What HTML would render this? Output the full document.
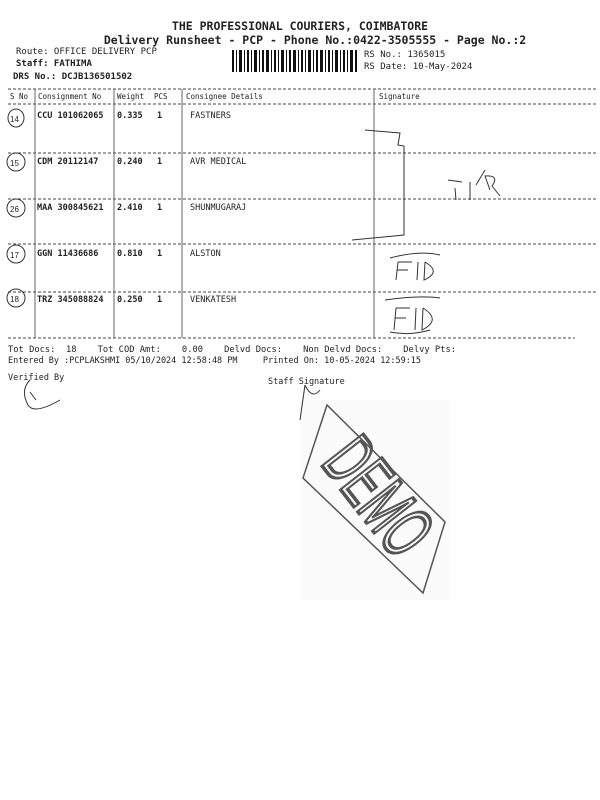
<!DOCTYPE html>
<html><head><meta charset="utf-8"><style>
body{margin:0;background:#fff;}
svg{display:block}
text{font-family:"DejaVu Sans Mono","Liberation Mono",monospace;fill:#222;white-space:pre}
</style></head><body>
<svg width="600" height="800" xmlns="http://www.w3.org/2000/svg" xml:space="preserve">
<rect width="600" height="800" fill="#fff"/>
<rect x="300" y="400" width="150" height="200" fill="#fbfbfb"/>
<g font-weight="bold">
<text x="300" y="30" font-size="11.5" text-anchor="middle">THE PROFESSIONAL COURIERS, COIMBATORE</text>
<text x="315" y="44" font-size="11.5" text-anchor="middle">Delivery Runsheet - PCP - Phone No.:0422-3505555 - Page No.:2</text>
</g>
<text x="16" y="54" font-size="9">Route: OFFICE DELIVERY PCP</text>
<text x="16" y="66" font-size="9" font-weight="bold">Staff: FATHIMA</text>
<text x="13" y="79" font-size="9" font-weight="bold">DRS No.: DCJB136501502</text>
<text x="364" y="57" font-size="9">RS No.: 1365015</text>
<text x="364" y="69" font-size="9">RS Date: 10-May-2024</text>
<g fill="#111">
<rect x="232" y="50" width="2" height="22"/><rect x="236" y="50" width="1" height="22"/><rect x="239" y="50" width="3" height="22"/><rect x="244" y="50" width="1" height="22"/><rect x="247" y="50" width="2" height="22"/><rect x="251" y="50" width="1" height="22"/><rect x="254" y="50" width="3" height="22"/><rect x="259" y="50" width="1" height="22"/><rect x="262" y="50" width="2" height="22"/><rect x="266" y="50" width="3" height="22"/><rect x="271" y="50" width="1" height="22"/><rect x="274" y="50" width="2" height="22"/><rect x="278" y="50" width="1" height="22"/><rect x="281" y="50" width="3" height="22"/><rect x="286" y="50" width="1" height="22"/><rect x="289" y="50" width="2" height="22"/><rect x="293" y="50" width="3" height="22"/><rect x="298" y="50" width="1" height="22"/><rect x="301" y="50" width="2" height="22"/><rect x="305" y="50" width="1" height="22"/><rect x="308" y="50" width="3" height="22"/><rect x="313" y="50" width="1" height="22"/><rect x="316" y="50" width="2" height="22"/><rect x="320" y="50" width="3" height="22"/><rect x="325" y="50" width="1" height="22"/><rect x="328" y="50" width="2" height="22"/><rect x="332" y="50" width="1" height="22"/><rect x="335" y="50" width="3" height="22"/><rect x="340" y="50" width="1" height="22"/><rect x="343" y="50" width="2" height="22"/><rect x="347" y="50" width="1" height="22"/><rect x="350" y="50" width="3" height="22"/><rect x="355" y="50" width="2" height="22"/>
</g>
<g stroke="#444" stroke-width="1" stroke-dasharray="3,2" fill="none">
<line x1="8" y1="89" x2="598" y2="89"/>
<line x1="8" y1="104" x2="598" y2="104"/>
<line x1="8" y1="153" x2="598" y2="153"/>
<line x1="8" y1="199" x2="598" y2="199"/>
<line x1="8" y1="244" x2="598" y2="244"/>
<line x1="8" y1="292" x2="598" y2="292"/>
<line x1="8" y1="338" x2="575" y2="338"/>
</g>
<g stroke="#666" stroke-width="1">
<line x1="35" y1="89" x2="35" y2="338"/>
<line x1="114" y1="89" x2="114" y2="338"/>
<line x1="182" y1="89" x2="182" y2="338"/>
<line x1="374" y1="89" x2="374" y2="338"/>
</g>
<g font-size="7.5">
<text x="10" y="99">S No</text><text x="38" y="99">Consignment No</text><text x="117" y="99">Weight</text><text x="154" y="99">PCS</text><text x="186" y="99">Consignee Details</text><text x="379" y="99">Signature</text>
</g>
<g font-size="8.5">
<g font-weight="bold"><text x="37" y="118">CCU 101062065</text><text x="117" y="118">0.335</text><text x="157" y="118">1</text></g><text x="190" y="118">FASTNERS</text>
<g font-weight="bold"><text x="37" y="164">CDM 20112147</text><text x="117" y="164">0.240</text><text x="157" y="164">1</text></g><text x="190" y="164">AVR MEDICAL</text>
<g font-weight="bold"><text x="37" y="210">MAA 300845621</text><text x="117" y="210">2.410</text><text x="157" y="210">1</text></g><text x="190" y="210">SHUNMUGARAJ</text>
<g font-weight="bold"><text x="37" y="256">GGN 11436686</text><text x="117" y="256">0.810</text><text x="157" y="256">1</text></g><text x="190" y="256">ALSTON</text>
<g font-weight="bold"><text x="37" y="302">TRZ 345088824</text><text x="117" y="302">0.250</text><text x="157" y="302">1</text></g><text x="190" y="302">VENKATESH</text>
</g>
<g font-size="8" fill="#222">
<text x="10" y="122" style="font-family:'Liberation Sans',sans-serif">14</text>
<text x="10" y="166" style="font-family:'Liberation Sans',sans-serif">15</text>
<text x="10" y="212" style="font-family:'Liberation Sans',sans-serif">26</text>
<text x="10" y="258" style="font-family:'Liberation Sans',sans-serif">17</text>
<text x="10" y="302" style="font-family:'Liberation Sans',sans-serif">18</text>
</g>
<g stroke="#333" fill="none" stroke-width="1">
<ellipse cx="16" cy="118" rx="8" ry="9"/><ellipse cx="16" cy="162" rx="9" ry="9"/><ellipse cx="16" cy="208" rx="9" ry="9"/><ellipse cx="16" cy="254" rx="9" ry="9"/><ellipse cx="16" cy="298" rx="9" ry="9"/>
<path d="M365 130 L400 133 L398 145 L404 146 L404 235 L352 240"/>
<path d="M455 188 L456 200 M448 180 L462 182 M470 182 L470 200 M476 185 L485 170 M490 190 L485 176 Q500 175 492 186 L500 196"/>
<path d="M390 258 Q420 250 440 255 M398 262 L396 280 M398 262 L412 262 M397 270 L408 270 M418 262 L417 280 M425 262 L424 280 Q442 272 425 262"/>
<path d="M385 300 Q420 295 440 298 M396 308 L394 330 M396 308 L410 308 M395 318 L406 318 M416 308 L415 330 M423 308 L422 330 Q442 320 423 308 M390 332 Q410 336 430 330"/>
<path d="M30 380 Q20 390 28 405 Q34 415 60 400 M30 392 L36 400"/>
<path d="M305 385 L300 420 M305 385 Q312 400 320 390"/>
</g>
<g font-size="8.5">
<text x="8" y="352" textLength="448" lengthAdjust="spacingAndGlyphs">Tot Docs:  18    Tot COD Amt:    0.00    Delvd Docs:    Non Delvd Docs:    Delvy Pts:</text>
<text x="8" y="363" textLength="413" lengthAdjust="spacingAndGlyphs">Entered By :PCPLAKSHMI 05/10/2024 12:58:48 PM     Printed On: 10-05-2024 12:59:15</text>
<text x="8" y="380">Verified By</text>
<text x="268" y="384">Staff Signature</text>
</g>
<polygon points="327,405 303,478 423,593 445,522" fill="none" stroke="#555" stroke-width="1.5"/>
<g transform="translate(374 500) rotate(52) scale(0.8 1.45)">
<text x="0" y="0" font-size="52" text-anchor="middle" dominant-baseline="middle" style="font-family:'Liberation Sans',sans-serif;fill:none;stroke:#555;stroke-width:2.5">DEMO</text>
</g>
</svg>
</body></html>
